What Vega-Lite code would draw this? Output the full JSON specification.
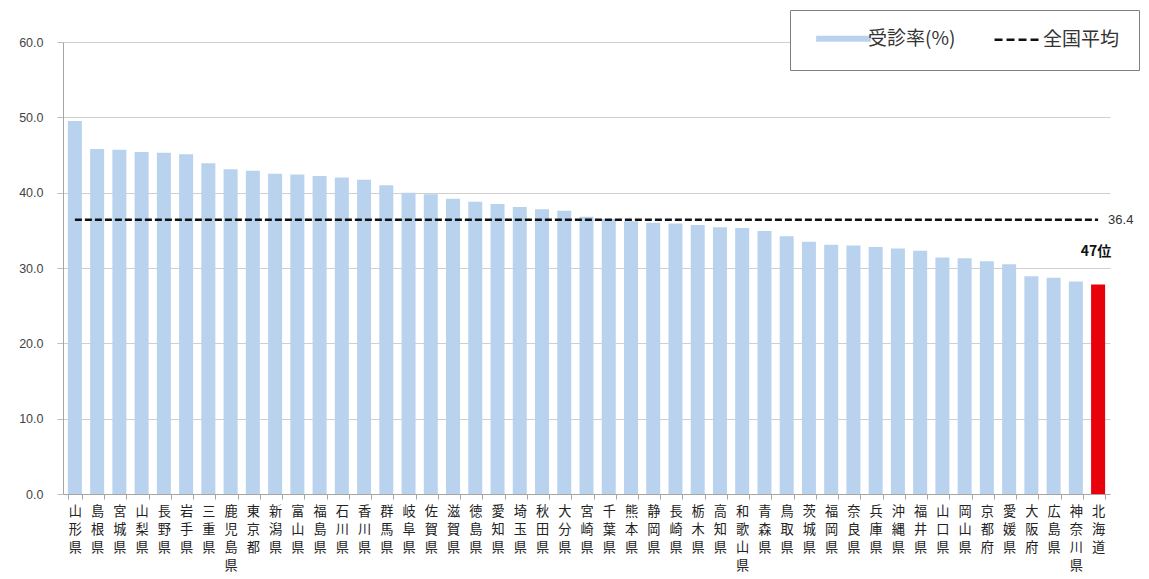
{
  "$schema": "https://vega.github.io/schema/vega-lite/v6.json",
  "autosize": {"type": "none"},
  "width": 1047,
  "height": 452,
  "padding": {"left": 63, "top": 42, "right": 39, "bottom": 85},
  "background": "white",
  "config": {
    "font": "Noto Sans CJK JP",
    "view": {"stroke": null}
  },
  "datasets": {
    "rates": [
      {"pref": "山形県", "rate": 49.5, "series": "受診率(%)"},
      {"pref": "島根県", "rate": 45.8, "series": "受診率(%)"},
      {"pref": "宮城県", "rate": 45.7, "series": "受診率(%)"},
      {"pref": "山梨県", "rate": 45.4, "series": "受診率(%)"},
      {"pref": "長野県", "rate": 45.3, "series": "受診率(%)"},
      {"pref": "岩手県", "rate": 45.1, "series": "受診率(%)"},
      {"pref": "三重県", "rate": 43.9, "series": "受診率(%)"},
      {"pref": "鹿児島県", "rate": 43.1, "series": "受診率(%)"},
      {"pref": "東京都", "rate": 42.9, "series": "受診率(%)"},
      {"pref": "新潟県", "rate": 42.5, "series": "受診率(%)"},
      {"pref": "富山県", "rate": 42.4, "series": "受診率(%)"},
      {"pref": "福島県", "rate": 42.2, "series": "受診率(%)"},
      {"pref": "石川県", "rate": 42.0, "series": "受診率(%)"},
      {"pref": "香川県", "rate": 41.7, "series": "受診率(%)"},
      {"pref": "群馬県", "rate": 41.0, "series": "受診率(%)"},
      {"pref": "岐阜県", "rate": 40.0, "series": "受診率(%)"},
      {"pref": "佐賀県", "rate": 39.8, "series": "受診率(%)"},
      {"pref": "滋賀県", "rate": 39.2, "series": "受診率(%)"},
      {"pref": "徳島県", "rate": 38.8, "series": "受診率(%)"},
      {"pref": "愛知県", "rate": 38.5, "series": "受診率(%)"},
      {"pref": "埼玉県", "rate": 38.1, "series": "受診率(%)"},
      {"pref": "秋田県", "rate": 37.8, "series": "受診率(%)"},
      {"pref": "大分県", "rate": 37.6, "series": "受診率(%)"},
      {"pref": "宮崎県", "rate": 36.8, "series": "受診率(%)"},
      {"pref": "千葉県", "rate": 36.5, "series": "受診率(%)"},
      {"pref": "熊本県", "rate": 36.2, "series": "受診率(%)"},
      {"pref": "静岡県", "rate": 36.0, "series": "受診率(%)"},
      {"pref": "長崎県", "rate": 35.9, "series": "受診率(%)"},
      {"pref": "栃木県", "rate": 35.7, "series": "受診率(%)"},
      {"pref": "高知県", "rate": 35.4, "series": "受診率(%)"},
      {"pref": "和歌山県", "rate": 35.3, "series": "受診率(%)"},
      {"pref": "青森県", "rate": 34.9, "series": "受診率(%)"},
      {"pref": "鳥取県", "rate": 34.2, "series": "受診率(%)"},
      {"pref": "茨城県", "rate": 33.5, "series": "受診率(%)"},
      {"pref": "福岡県", "rate": 33.1, "series": "受診率(%)"},
      {"pref": "奈良県", "rate": 33.0, "series": "受診率(%)"},
      {"pref": "兵庫県", "rate": 32.8, "series": "受診率(%)"},
      {"pref": "沖縄県", "rate": 32.6, "series": "受診率(%)"},
      {"pref": "福井県", "rate": 32.3, "series": "受診率(%)"},
      {"pref": "山口県", "rate": 31.4, "series": "受診率(%)"},
      {"pref": "岡山県", "rate": 31.3, "series": "受診率(%)"},
      {"pref": "京都府", "rate": 30.9, "series": "受診率(%)"},
      {"pref": "愛媛県", "rate": 30.5, "series": "受診率(%)"},
      {"pref": "大阪府", "rate": 28.9, "series": "受診率(%)"},
      {"pref": "広島県", "rate": 28.7, "series": "受診率(%)"},
      {"pref": "神奈川県", "rate": 28.2, "series": "受診率(%)"},
      {"pref": "北海道", "rate": 27.8, "series": "受診率(%)"}
    ],
    "national": [
      {"pref": "山形県", "avg": 36.4, "series": "全国平均"},
      {"pref": "北海道", "avg": 36.4, "series": "全国平均"}
    ]
  },
  "layer": [
    {
      "data": {"name": "rates"},
      "mark": {"type": "bar"},
      "encoding": {
        "x": {
          "field": "pref",
          "type": "nominal",
          "sort": null,
          "scale": {"paddingInner": 0.37, "paddingOuter": 0.22},
          "axis": {
            "title": null,
            "labelAngle": 0,
            "labelExpr": "split(datum.label, '')",
            "labelFontSize": 13.2,
            "labelLineHeight": 18,
            "labelColor": "#222222",
            "labelBaseline": "top",
            "labelPadding": 6,
            "tickBand": "extent",
            "tickSize": 5,
            "tickColor": "#a6a6a6",
            "domainColor": "#a6a6a6",
            "grid": false
          }
        },
        "y": {
          "field": "rate",
          "type": "quantitative",
          "scale": {"domain": [0, 60], "nice": false},
          "axis": {
            "title": null,
            "values": [0, 10, 20, 30, 40, 50, 60],
            "format": ".1f",
            "labelFont": "Liberation Sans",
            "labelFontSize": 12.5,
            "labelColor": "#444444",
            "labelPadding": 14,
            "tickSize": 6,
            "tickColor": "#bfbfbf",
            "domainColor": "#a6a6a6",
            "gridColor": "#cfcfcf"
          }
        },
        "color": {
          "condition": {"test": "datum.pref === '北海道'", "value": "#e8000b"},
          "field": "series",
          "type": "nominal",
          "scale": {"domain": ["受診率(%)", "全国平均"], "range": ["#b9d3ee", "#111111"]},
          "legend": {
            "title": null,
            "orient": "none",
            "legendX": 727,
            "legendY": -32,
            "direction": "horizontal",
            "strokeColor": "#808080",
            "fillColor": "white",
            "padding": 19,
            "symbolOffset": 25,
            "symbolType": "stroke",
            "symbolSize": 3000,
            "symbolStrokeWidth": 6,
            "labelFontSize": 19,
            "labelColor": "#333333",
            "labelOffset": 15,
            "columnPadding": 28,
            "encode": {
              "symbols": {
                "update": {
                  "stroke": {"signal": "datum.value === '全国平均' ? '#111111' : '#b9d3ee'"},
                  "strokeWidth": {"signal": "datum.value === '全国平均' ? 2.5 : 6"},
                  "strokeDash": {"signal": "datum.value === '全国平均' ? [8, 4] : [1, 0]"},
                  "size": {"signal": "datum.value === '全国平均' ? 2300 : 3000"}
                }
              }
            }
          }
        }
      }
    },
    {
      "data": {"name": "national"},
      "mark": {"type": "line", "strokeDash": [7, 3], "strokeWidth": 2.5},
      "encoding": {
        "x": {"field": "pref", "type": "nominal", "sort": null},
        "y": {"field": "avg", "type": "quantitative"},
        "color": {"field": "series", "type": "nominal"}
      }
    },
    {
      "data": {"name": "national"},
      "transform": [{"filter": "datum.pref === '北海道'"}],
      "mark": {"type": "text", "align": "left", "baseline": "middle", "dx": 10, "fontSize": 13, "font": "Liberation Sans", "color": "#333333"},
      "encoding": {
        "x": {"field": "pref", "type": "nominal", "sort": null},
        "y": {"field": "avg", "type": "quantitative"},
        "text": {"field": "avg", "type": "quantitative", "format": ".1f"}
      }
    },
    {
      "data": {"name": "rates"},
      "transform": [{"filter": "datum.pref === '北海道'"}],
      "mark": {"type": "text", "align": "center", "baseline": "middle", "dy": -33, "dx": -2, "fontSize": 14, "fontWeight": "bold", "color": "#111111"},
      "encoding": {
        "x": {"field": "pref", "type": "nominal", "sort": null},
        "y": {"field": "rate", "type": "quantitative"},
        "text": {"value": "47位"}
      }
    }
  ]
}
